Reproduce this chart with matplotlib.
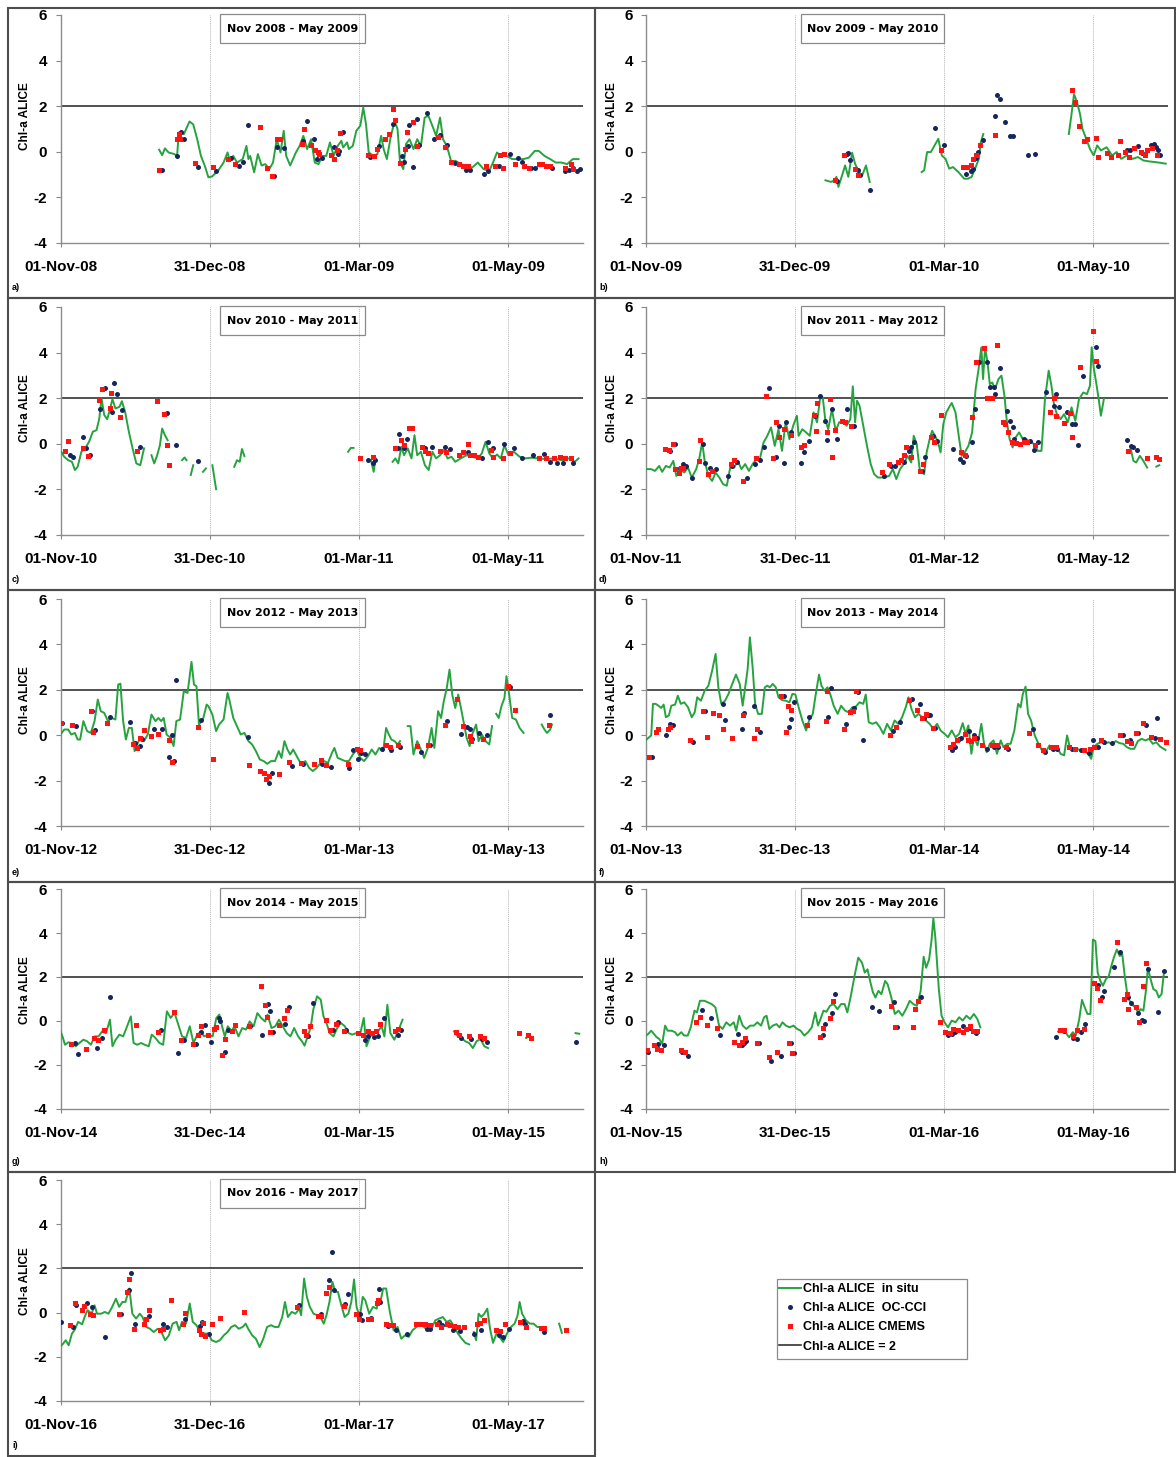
import numpy as np
import matplotlib.pyplot as plt
from matplotlib.patches import Rectangle
from matplotlib.lines import Line2D

# day = days since 01-Nov of the season; None marks a break in the in situ record
GAP = (None, None)

insitu_a = [(39.7, 0.09), (40.9, -0.15), (42, 0.15), (43.5, -0.03), (45.8, -0.1), (46.9, -0.18), (47.6, 0.85),
            (49.6, 0.77), (51.9, 1.33), (53.4, 1.2), (55, 0.55), (56.5, -0.18), (58, -0.6), (59.5, -1.12),
            (61, -1.08), (63.4, -0.83), (65.6, -0.47), (67.2, -0.03), (67.9, -0.32), (69.5, -0.18), (71, -0.47),
            (73.3, -0.32), (74.8, 0.26), (75.6, -0.32), (76.3, -0.18), (77.9, -0.9), (79.4, -0.1), (80.9, -0.6),
            (82.4, -0.54), (84, -0.76), (85.5, -0.47), (87, 0.55), (88.5, -0.03), (89.8, 0.92), (90.8, -0.18),
            (92.4, -0.6), (94.7, -0.03), (96.2, 0.26), (97.7, 0.7), (99.2, 0.12), (100.8, 0.55), (102.3, -0.47),
            (103.8, -0.54), (105.3, -0.18), (106.9, -0.18), (108.4, 0.41), (109.9, -0.18), (111.5, 0.26),
            (113, 0.48), (113.7, 0.19), (115.3, 0.41), (116, 0.12), (117.6, 0.26), (119, 0.92), (120.6, 1.14),
            (121.8, 1.94), (122.9, 1.21), (124, -0.03), (126, -0.18), (127.5, -0.1), (129, 0.7), (130, 0.12),
            (131.3, -0.32), (132.8, 0.63), (134.4, 1.36), (135.6, 0.99), (136.6, -0.47), (137.9, -0.76),
            (139, 0.34), (140.4, 0.55), (142, 0.12), (143.5, 0.55), (145, 0.26), (146.5, 1.5), (148, 1.58),
            (149.6, 1.14), (151.1, 0.7), (152.7, 1.5), (153.9, 0.55), (155.4, 0.26), (157.3, -0.47),
            (158.8, -0.39), (161, -0.54), (163.4, -0.61), (165.6, -0.69), (167.9, -0.47), (170.2, -0.76),
            (172.5, -0.83), (174, -0.47), (175.6, -0.03), (177.1, -0.18), (179.4, -0.18), (181.7, -0.32),
            (184, -0.32), (186.3, -0.32), (188.5, -0.25), (190.8, 0.04), (192.4, 0.04), (194.7, -0.18),
            (197, -0.32), (199.2, -0.47), (201.5, -0.47), (203.8, -0.54), (206.1, -0.32), (208.4, -0.32)]
occci_a = [(40.9, -0.79), (46.7, -0.18), (48.5, 0.88), (49.7, 0.55), (55.4, -0.66), (62.6, -0.86), (68.4, -0.28),
           (71.8, -0.61), (73.3, -0.44), (75.4, 1.17), (85.8, -1.05), (87, 0.19), (89.8, 0.16), (97.7, 0.48),
           (99.2, 1.36), (101.9, 0.58), (103, -0.32), (105, -0.28), (109.9, 0.19), (111.5, -0.1), (111.9, 0.04),
           (113.7, 0.89), (124.5, -0.25), (128.2, 0.26), (133.9, 1.21), (137.4, -0.18), (138.2, -0.44),
           (139.7, 0.26), (140.4, 1.17), (141.7, -0.66), (143.5, 1.46), (144.3, 0.29), (147.3, 1.72),
           (150.4, 0.58), (152.7, 0.73), (155.4, 0.29), (158.8, -0.47), (163, -0.8), (164.9, -0.79),
           (170.2, -0.98), (172.1, -0.83), (176.3, -0.64), (177.9, -0.1), (180.9, -0.1), (184, -0.29),
           (185.5, -0.44), (189.3, -0.69), (190.8, -0.69), (197.7, -0.73), (203, -0.86), (204.6, -0.79),
           (206.1, -0.69), (207.6, -0.83), (208.8, -0.76)]
cmems_a = [(39.7, -0.79), (46.7, 0.58), (47.6, 0.77), (47.9, 0.58), (54.2, -0.47), (61.5, -0.66), (67.2, -0.32),
           (70.2, -0.54), (80.2, 1.07), (83.2, -0.69), (85.2, -1.08), (87, 0.58), (88.5, 0.58), (97, 0.36),
           (98, 0.99), (100.8, 0.31), (102.3, 0.09), (103.5, 0), (103.8, -0.1), (108.7, -0.15), (109.9, -0.32),
           (111.1, 0.07), (112.6, 0.82), (123.6, -0.15), (126, -0.18), (127.5, 0.12), (130.5, 0.55),
           (132.1, 0.77), (133.6, 1.87), (134.7, 1.4), (136.6, -0.47), (138.6, 0.12), (139.3, 0.88), (142, 1.31),
           (143.3, 0.26), (152, 0.67), (154.5, 0.19), (157, -0.44), (160.3, -0.54), (162.1, -0.61),
           (164.1, -0.61), (171.3, -0.61), (174.8, -0.61), (176.8, -0.15), (178.6, -0.1), (177.9, -0.69),
           (183, -0.54), (186.3, -0.61), (188.5, -0.69), (192.4, -0.54), (193.9, -0.54), (195.4, -0.61),
           (197, -0.61), (203, -0.69), (205.3, -0.54), (206.1, -0.76)]

insitu_b = [(72.2, -1.25), (74.4, -1.32), (75.9, -1.25), (76.6, -1.1), (77.4, -1.54), (78.9, -1.03), (80.1, -0.6),
            (81.4, -1.1), (82.9, -0.04), (84.1, -0.52), (85.6, -0.89), (87, -1.03), (88.5, -0.6), (90, -1.32), GAP,
            (110.9, -0.89), (111.9, -0.81), (113.1, -0.01), (114.6, -0.01), (116.1, 0.28), (117.6, 0.57),
            (119, -0.16), (120.5, -0.31), (122, -0.74), (123.5, -0.67), (125.7, -0.89), (128, -1.18),
            (129.5, -1.18), (131, -1.1), (132.4, -0.74), (133.9, -0.31), (134.7, 0.42), (135.7, 0.78), GAP,
            (170.1, 0.78), (171.1, 1.58), (172.2, 2.53), (173.4, 2.17), (174.6, 1.66), (175.6, 1.0), (177.1, 0.57),
            (178.6, 0.13), (180.1, -0.16), (181.5, 0.28), (183, 0.06), (185.3, 0.2), (187.5, -0.16),
            (189.3, -0.01), (191.2, -0.31), (193.5, -0.16), (195.7, -0.31), (197.9, -0.23), (200.1, -0.38),
            (202.4, -0.42), (204.6, -0.45), (206.8, -0.48), (209.1, -0.52)]
occci_b = [(76.9, -1.29), (80.8, -0.09), (81.4, -0.04), (82.1, -0.35), (85.1, -0.81), (86, -1.0), (90, -1.69),
           (116.1, 1.03), (119.8, 0.31), (128.7, -0.96), (130.7, -0.86), (131.7, -0.74), (132.7, -0.28),
           (133.6, 0.01), (135.7, 0.52), (140.3, 1.56), (141.4, 2.5), (142.6, 2.31), (144.6, 1.32), (146.6, 0.68),
           (147.6, 0.71), (153.6, -0.16), (156.3, -0.09), (193.5, 0.06), (194.6, 0.09), (197.9, 0.25),
           (199.4, -0.04), (203.1, 0.28), (204.2, 0.35), (205.1, 0.2), (206.1, 0.09), (206.8, -0.13)]
cmems_b = [(76.2, -1.25), (79.6, -0.16), (84.1, -0.74), (85.1, -1.03), (118.6, 0.09), (127.7, -0.67),
           (129.2, -0.67), (130.7, -0.6), (131.7, -0.31), (132.7, -0.16), (134.4, 0.31), (140.3, 0.74),
           (171.4, 2.7), (172.6, 2.17), (174.1, 1.15), (176.3, 0.49), (177.4, 0.57), (180.9, 0.6), (181.8, -0.23),
           (185.3, -0.04), (187.2, -0.23), (189.7, -0.16), (190.8, 0.47), (192.7, -0.01), (194.2, -0.23),
           (196.4, 0.16), (199, -0.01), (200.6, -0.13), (201.6, 0.06), (203.6, 0.16), (205.4, -0.16)]

insitu_c = [(0.3, -0.35), (1.5, -0.57), (3.1, -0.72), (4.6, -0.79), (5.8, -1.15), (6.9, -1.01), (8.4, -0.35),
            (9.9, -0.2), (11.5, 0.09), (13, 0.53), (14.5, 0.6), (15.6, 1.11), (16.5, 1.99), (17.6, 1.26),
            (18.8, 1.08), (19.8, 1.48), (20.9, 1.96), (22.1, 1.55), (23.7, 1.62), (24.7, 1.87), (26, 1.4),
            (27.5, 0.53), (29, -0.2), (30.5, -0.86), (32.1, -0.94), (33.6, -0.2), GAP,
            (36.6, -0.5), (37.7, -0.86), (38.9, -0.5), (40, -0.06), (40.9, 0.67), (42, 0.38), (43.1, 0.16), GAP,
            (48.9, -0.72), (49.9, -0.6), (50.7, -0.72), GAP, (52.4, -1.37), (53.4, -0.94), GAP,
            (57.3, -1.23), (58.5, -1.08), GAP, (61.1, -0.94), (62.6, -1.99), GAP,
            (69.9, -1.01), (71, -0.72), (72.1, -0.79), (73, -0.23), (74, -0.54), GAP,
            (115.7, -0.35), (116.8, -0.18), (117.9, -0.18), GAP, (124.9, -0.72), (126, -1.23), (126.7, -0.64), GAP,
            (133.6, -0.79), (134.7, -0.64), (135.9, -0.86), (137.1, -0.13), (138.2, -0.5), (139.7, -0.2),
            (141.2, -0.64), (142.4, 0.38), (143.5, -0.5), (145, -0.35), (146.6, -0.94), (148.1, -1.15),
            (149.6, -0.35), (151.1, -0.64), (152.7, -0.5), (154.2, -0.28), (155.7, -0.64), (157.3, -0.57),
            (158.8, -0.79), (161, -0.64), (163.4, -0.5), (165.6, -0.57), (167.9, -0.64), (169.5, -0.42),
            (171, 0.09), (172.5, -0.42), (174, -0.64), (175.6, -0.47), (177.1, -0.64), (178.6, -0.06),
            (180.2, -0.5), (182.4, -0.35), (184.7, -0.57), (187, -0.64), (189.3, -0.61), (192.4, -0.64),
            (195.4, -0.67), (198.5, -0.64), (201.5, -0.72), (204.6, -0.64), (206.9, -0.79), (208.4, -0.64)]
occci_c = [(3.8, -0.5), (4.9, -0.57), (9.2, 0.29), (10.1, -0.18), (11.9, -0.5), (16, 1.52), (18, 2.43), (20.6, 1.4),
           (21.7, 2.68), (22.9, 2.18), (24.7, 1.48), (31.8, -0.16), (42.7, 1.33), (46.6, -0.06), (55.3, -0.75),
           (123.7, -0.72), (125.6, -0.86), (126.4, -0.72), (136.3, 0.41), (135.9, -0.2), (139.4, 0.23),
           (138.2, -0.2), (146.6, -0.2), (149.3, -0.16), (154.5, -0.13), (156.5, -0.23), (164.1, -0.35),
           (169.5, -0.64), (171.8, 0.09), (173.9, -0.18), (178.6, -0.03), (182.4, -0.2), (185.8, -0.64),
           (190.1, -0.5), (192.7, -0.64), (194.7, -0.45), (197, -0.79), (199.7, -0.86), (202.3, -0.86),
           (206.1, -0.86)]
cmems_c = [(1.8, -0.32), (3.1, 0.12), (8.9, -0.18), (11.1, -0.54), (15.3, 1.92), (16.8, 2.4), (20.2, 2.21),
           (19.8, 1.59), (24.1, 1.18), (30.8, -0.32), (38.9, 1.87), (41.5, 1.3), (42.7, -0.06), (43.5, -0.94),
           (120.6, -0.61), (125.6, -0.57), (134.4, -0.18), (137.1, 0.16), (138.2, -0.06), (140.2, 0.7),
           (141.3, 0.7), (145.3, -0.13), (146.6, -0.32), (147.8, -0.42), (152.7, -0.32), (154.9, -0.38),
           (160.3, -0.5), (161.8, -0.35), (164.1, -0.01), (164.9, -0.47), (166.4, -0.5), (167.9, -0.57),
           (173.3, -0.28), (174, -0.57), (177.9, -0.64), (181, -0.42), (192.4, -0.61), (195.4, -0.64),
           (198.5, -0.61), (200.8, -0.57), (203.1, -0.61), (205.3, -0.61)]

insitu_d = [(0, -1.11), (2.1, -1.11), (3.6, -1.19), (5.3, -0.97), (6.5, -1.23), (8, -0.97), (9.5, -1.04),
            (11, -0.75), (12.2, -1.41), (13.6, -1.11), (15.4, -1.26), (16.9, -1.04), (18.4, -1.48), (20.2, -1.11),
            (21.4, -0.67), (22.6, 0.06), (23.6, -0.75), (25.1, -1.41), (26.6, -1.63), (28, -1.26), (29.5, -1.48),
            (31, -1.77), (32.5, -1.84), (34, -0.97), (35.5, -1.04), (36.9, -0.75), (38.4, -1.11), (39.9, -0.89),
            (41.4, -1.19), (42.9, -0.89), (44.4, -0.67), (45.8, -0.67), (47.3, 0.06), (48.8, 0.35), (50.3, 0.72),
            (51.8, -0.09), (53.3, 0.64), (54.7, -0.31), (56.2, 0.94), (57.7, 0.2), (59.2, 0.79), (60.7, 1.23),
            (61.4, 0.35), (62.9, 0.64), (64.4, 0.5), (65.9, 0.35), (67.4, 1.38), (68.8, 0.94), (70, 1.96),
            (71.1, 2.04), (72.1, 1.08), (73.3, 0.64), (74.8, 1.52), (76.3, 0.57), (77.7, 0.94), (79.2, 1.01),
            (80.7, 0.79), (82.2, 1.08), (83.2, 2.52), (84.1, 0.94), (84.9, 1.89), (85.9, 1.67), (87.4, 0.79),
            (88.9, -0.09), (90.4, -0.89), (91.8, -1.33), (93.3, -1.48), (95.5, -1.48), (97.8, -1.41),
            (99.3, -1.11), (100.7, -1.55), (102.2, -1.11), (103.7, -0.89), (105.2, -0.53), (106.7, -0.82),
            (107.7, 0.35), (108.9, -0.01), (110.1, -1.11), (111.1, -1.26), (111.9, -1.33), (112.9, -0.38),
            (114.1, 0.2), (115.1, 0.57), (116.3, 0.35), (117.5, 0.06), (118.5, -0.38), (119.6, 0.86),
            (120.8, 1.38), (122.3, 1.67), (123, 1.79), (124.5, 1.38), (126, 0.2), (127, -0.53), (128.2, -0.38),
            (129.7, -0.09), (131.2, 0.5), (132.6, 2.4), (133.8, 3.28), (134.9, 4.23), (135.6, 2.84),
            (136.4, 4.23), (137.4, 3.57), (138.3, 2.62), (139.3, 2.69), (140.4, 2.4), (141.8, 2.84), (143, 2.99),
            (144.2, 2.11), (145.2, 0.94), (146.3, 0.2), (147.5, -0.16), (148.7, 0.28), (150.1, 0.5), (151.6, 0.2),
            (153.1, 0.2), (154.6, 0.06), (156.4, -0.01), (157.6, -0.31), (159.1, -0.31), (160.5, 1.96),
            (162, 3.21), (163.1, 2.55), (164.1, 1.74), (165.3, 1.3), (166.8, 1.08), (168.2, 1.3), (169.7, 0.94),
            (171.2, 1.6), (172.7, 1.01), (174.2, 1.96), (175.9, 2.25), (177.4, 2.18), (178.6, 2.55),
            (179.3, 4.23), (180.1, 3.35), (181.3, 2.55), (182.3, 1.82), (183, 1.23), (184.2, 1.96), GAP,
            (193.5, -0.38), (195, -0.23), (196.1, -0.75), (197.2, -0.82), (198.7, -0.53), (200.1, -0.75),
            (201.6, -1.04), GAP, (205.3, -1.0), (206.5, -0.94)]
occci_d = [(9.5, -0.31), (11.7, -0.01), (13.6, -1.04), (14.7, -0.89), (16.2, -0.97), (18.7, -1.48), (22.8, -0.01),
           (23.9, -0.86), (25.8, -1.08), (28, -1.11), (32.8, -1.41), (34.7, -0.97), (36.6, -0.82), (40.7, -1.52),
           (43.9, -0.89), (45.8, -0.72), (47.3, -0.12), (49.6, 2.43), (52.2, -0.57), (53.7, 0.76), (55.5, -0.86),
           (56.2, 0.94), (58.5, 0.5), (62.2, -0.86), (63.4, -0.35), (65.6, 0.13), (68.1, 1.23), (70, 2.08),
           (72.1, 1.01), (73, 0.18), (74.8, 1.52), (76.7, 0.2), (80.7, 1.52), (83.7, 0.79), (95.8, -1.41),
           (98.5, -0.97), (100, -0.97), (103.7, -0.82), (105.9, -0.31), (106.7, -0.16), (107.7, 0.06),
           (111.1, -1.19), (112.3, -0.6), (115.6, 0.35), (117.1, 0.13), (123.4, -0.23), (126.4, -0.67),
           (127.4, -0.82), (128.9, -0.53), (131.2, 0.06), (132.3, 1.52), (134.1, 3.57), (137.1, 3.57),
           (138.3, 2.47), (139.8, 2.47), (140.4, 2.18), (142.3, 3.31), (145.2, 1.45), (146.3, 1.01), (147.5, 0.72),
           (148.2, 0.2), (151.9, 0.2), (154.6, 0.13), (156.1, -0.26), (157.6, 0.06), (161, 2.25), (164.1, 1.67),
           (165, 2.18), (166, 1.6), (169.4, 1.38), (171.2, 0.86), (172.4, 0.86), (173.7, -0.06), (175.9, 2.99),
           (180.9, 4.23), (181.9, 3.43), (193.5, 0.16), (195.3, -0.09), (196.1, -0.12), (197.6, -0.26)]
cmems_d = [(7.7, -0.23), (9.1, -0.26), (10.7, -0.01), (11.7, -1.11), (13.2, -1.26), (14, -1.04), (15, -1.04),
           (21.4, -0.75), (21.8, 0.18), (25.1, -1.33), (26.6, -1.19), (34, -0.89), (35.5, -0.7), (39.2, -1.63),
           (44.4, -0.63), (48.1, 2.08), (51, -0.63), (52.2, 0.94), (53.6, 0.32), (55.5, 0.67), (58.5, 0.38),
           (62.5, -0.16), (63.7, -0.06), (67.4, 1.26), (68.8, 1.79), (68.5, 0.57), (72.8, 0.5), (74.2, 1.96),
           (74.9, -0.6), (75.9, 0.62), (78.9, 1.01), (80, 0.97), (82.6, 0.79), (94.8, -1.23), (97.8, -0.89),
           (101.5, -0.78), (102.7, -0.72), (103.7, -0.48), (104.7, -0.16), (106.7, -0.57), (110.4, -1.19),
           (111.6, -0.89), (114.8, 0.28), (116, 0.1), (118.5, 1.27), (126.7, -0.38), (128.2, -0.5), (131.2, 1.16),
           (132.9, 3.57), (135.9, 4.19), (137.1, 2.0), (139.3, 1.99), (141.3, 4.33), (143.8, 0.97), (144.5, 0.86),
           (145.7, 0.5), (147.2, 0.09), (148.7, 0.03), (150.4, -0.01), (151.9, 0.06), (153.1, 0.06),
           (156.4, -0.06), (162.6, 1.41), (164.1, 2.03), (165, 1.23), (168.2, 0.91), (170.5, 1.35), (171.5, 0.32),
           (174.5, 3.35), (179.8, 4.96), (180.9, 3.65), (194.1, -0.31), (201.6, -0.64), (205.3, -0.6),
           (206.5, -0.67)]

insitu_e = [(0, 0.03), (1.5, 0.25), (3.1, 0.25), (4.3, 0.03), (5.8, 0.1), (6.9, -0.19), (7.9, -0.19), (9.2, 0.62),
            (10.7, 0.18), (12.2, 0.1), (13.7, 0.62), (15, 1.57), (16.2, 1.06), (17.6, 0.98), (19.1, 0.62),
            (20.6, 0.76), (22.1, 0.69), (23.2, 2.23), (24.1, 2.27), (25.2, 0.62), (26.3, -0.19), (27.5, 0.32),
            (28.7, 0.32), (29.8, -0.7), (30.8, -0.41), (32.1, -0.12), (33.6, -0.26), (35.1, 0.03), (36.6, 0.91),
            (38.2, 0.62), (39.4, 0.76), (40.5, 0.62), (41.5, 0.76), (42.7, 0.03), (44.3, -0.12), (45.5, -0.48),
            (46.6, 0.62), (48.1, 0.69), (49.6, 1.94), (51.1, 1.86), (52.7, 3.23), (53.7, 2.23), (54.7, 2.16),
            (55.7, 0.47), (57.3, 0.69), (58.8, 1.35), (59.5, 1.28), (61.1, 0.91), (62.6, 0.18), (63.8, 0.47),
            (65.6, 0.69), (67.2, 1.86), (67.9, 1.57), (69.5, 0.76), (71, 0.4), (72.5, 0.03), (74, 0.1),
            (75.6, -0.26), (77.1, -0.41), (78.6, -0.7), (80.2, -1.07), (81.7, -1.14), (83.2, -1.26), (84.7, -1.14),
            (86.3, -1.14), (87.8, -0.7), (88.9, -1.0), (90.1, -0.26), (91.3, -0.63), (92.4, -0.85), (93.6, -0.63),
            (95.4, -1.0), (96.9, -1.29), (98.5, -1.14), (100, -1.44), (101.5, -1.58), (103.1, -1.44),
            (104.6, -1.22), (106.1, -1.14), (107.6, -1.22), (109.2, -0.78), (110.2, -0.56), (111.5, -1.0),
            (113, -1.07), (114.5, -1.14), (116, -1.14), (117.6, -0.85), (119.1, -0.63), (120.6, -1.0),
            (122.1, -1.14), (123.7, -0.92), (125.2, -0.63), (126.7, -0.85), (128.2, -0.56), (129.8, -0.7),
            (131, 0.32), (132.1, 0.03), (133.1, -0.19), (134.4, -0.26), (135.6, -0.41), (136.6, -0.26), GAP,
            (139.7, 0.4), (140.8, 0.4), (142, -0.85), (143.5, -0.26), (144.7, -0.56), (146.3, -1.0), (147.8, -0.56),
            (149.3, 0.32), (150.4, -0.56), (151.9, 1.06), (153.1, 0.76), (154.2, 1.5), (155.4, 2.08),
            (156.5, 2.89), (157.6, 1.79), (158.8, 1.2), (160, 1.79), (161.1, 1.2), (162.1, 0.62), (163.4, -0.12),
            (164.6, -0.48), (165.6, 0.03), (167.2, 0.47), (168.2, -0.26), (169.5, 0.03), (171, -0.26),
            (172.5, -0.41), (173.6, 0.4), GAP, (175.3, 0.94), (176.3, 0.76), (177.4, 1.28), (178.6, 1.64),
            (179.4, 2.6), (180.5, 1.79), (181.7, 0.76), (183.2, 0.69), (184.7, 0.32), (186.3, 0.1), GAP,
            (193.6, 0.47), (194.7, 0.25), (195.7, 0.1), (197, 0.25), (197.7, 0.47)]
occci_e = [(0.8, 0.54), (6.1, 0.4), (12.7, 1.06), (13.7, 0.21), (19.8, 0.79), (27.9, 0.57), (29.8, -0.34),
           (31.8, -0.48), (32.8, -0.15), (37.7, 0.29), (40.8, 0.29), (43.5, -0.97), (45.5, -1.14), (44.7, 0.03),
           (46.6, 2.42), (56.5, 0.65), (75.6, -0.07), (84, -2.1), (85.2, -1.66), (93.1, -1.36), (97.7, -1.29),
           (105.3, -1.29), (108.7, -1.41), (116, -1.44), (117.6, -0.67), (119.8, -1.03), (120.9, -0.78),
           (122.4, -0.81), (129.5, -0.6), (132.8, -0.67), (136.6, -0.53), (144.9, -0.73), (148.5, -0.45),
           (155.4, 0.62), (161.1, 0.07), (163.7, 0.35), (164.6, 0.29), (165.6, -0.16), (168.2, 0.1),
           (171.5, -0.01), (180.9, 2.11), (197, 0.91)]
cmems_e = [(0, 0.54), (4.6, 0.44), (12.2, 1.06), (13, 0.15), (18.6, 0.54), (29, -0.38), (30.8, -0.56), (32.1, -0.12),
           (33.6, 0.21), (36.6, -0.04), (39.4, 0.07), (43.5, -0.23), (45, -1.19), (55.3, 0.35), (61.5, -1.07),
           (76, -1.33), (80.2, -1.58), (81.7, -1.66), (82.7, -1.95), (84, -1.8), (87.8, -1.7), (91.9, -1.17),
           (96.9, -1.22), (102, -1.26), (104.6, -1.11), (106.9, -1.33), (115.7, -1.29), (119.1, -0.59),
           (120.3, -0.63), (131, -0.41), (132.5, -0.53), (135.6, -0.41), (143.5, -0.48), (147.8, -0.41),
           (154.5, 0.47), (159.5, 1.61), (162.1, 0.4), (164.6, -0.04), (165.3, -0.26), (169.8, -0.16),
           (180.2, 2.16), (182.9, 1.13), (196.6, 0.47)]

insitu_f = [(0, -0.21), (1.3, -0.09), (2.1, -0.01), (2.8, 1.38), (3.9, 1.38), (5, 1.3), (6.1, 1.2), (7.1, 1.35),
            (8, 0.79), (9.2, 0.87), (10.2, 1.3), (11.7, 1.35), (12.8, 1.74), (14, 1.38), (15.4, 1.45), (16.9, 1.23),
            (18.4, 0.79), (19.6, 1.01), (20.6, 1.67), (22.1, 1.52), (23.6, 1.96), (25.1, 2.18), (26.6, 2.84),
            (28, 3.58), (29.1, 2.11), (30.3, 1.38), (31.8, 1.52), (33.2, 1.82), (34.7, 2.26), (36.2, 2.67),
            (37.7, 2.26), (38.9, 1.3), (39.9, 2.11), (40.9, 2.92), (41.8, 4.31), (42.9, 2.99), (43.9, 1.38),
            (45.1, 0.94), (46.6, 0.94), (47.8, 2.11), (48.8, 2.18), (49.8, 2.11), (51, 2.26), (52.2, 2.11),
            (53.3, 1.67), (54.7, 1.55), (56.2, 1.52), (57.7, 1.45), (58.9, 1.82), (60.1, 1.79), (61.4, 1.23),
            (62.9, 0.65), (64.4, 0.21), (65.6, 0.65), (67.1, 0.94), (68.1, 1.67), (69.6, 2.67), (70.6, 2.18),
            (71.8, 1.96), (73, 2.11), (74.1, 1.82), (75.5, 1.3), (77.1, 0.94), (78.5, 1.3), (80.1, 1.08),
            (81.5, 1.01), (83, 1.23), (84.4, 1.26), (85.9, 1.45), (87.4, 1.38), (88.4, 1.79), (89.6, 0.57),
            (91.1, 0.5), (92.6, 0.57), (94.1, 0.35), (95.5, 0.06), (97, 0.5), (98.5, 0.21), (100, 0.65),
            (101.5, 0.5), (103, 0.79), (104.5, 1.23), (105.6, 1.67), (106.8, 1.16), (108.2, 0.79), (109.6, 0.94),
            (111.1, 0.79), (112.6, 0.65), (114.1, 0.5), (115.6, 0.28), (117.1, 0.5), (118.5, 0.21), (120.1, 0.06),
            (121.5, -0.09), (123, 0.21), (124.5, -0.09), (126, 0.06), (127.4, 0.53), (128.6, 0.06), (129.7, 0.43),
            (130.9, -0.82), (131.9, -0.09), (133.4, -0.45), (134.9, 0.5), (136, -0.38), (137.1, -0.75),
            (138.3, -0.38), (139.8, -0.23), (141.2, -0.82), (142.7, -0.23), (143.8, -0.53), (145.3, -0.38),
            (146.7, -0.38), (148.2, 0.21), (149.7, 1.38), (150.7, 1.23), (151.6, 1.82), (152.7, 2.14),
            (153.7, 0.94), (154.9, 0.65), (156.4, -0.01), (157.9, -0.38), (159.3, -0.67), (160.8, -0.75),
            (162.3, -0.45), (163.8, -0.67), (165.3, -0.53), (166.8, -0.82), (168.2, -0.89), (169.4, -0.01),
            (170.5, -0.53), (171.9, -0.67), (173.4, -0.6), (174.9, -0.67), (176.4, -0.7), (177.9, -0.82),
            (179.1, -1.04), (180.1, -0.53), (181.6, -0.38), (183.1, -0.31), (184.6, -0.38), (186.1, -0.31),
            (187.5, -0.38), (189, -0.26), (190.5, -0.35), (192, -0.38), (193.5, -0.53), (195, -0.6), (196.4, -0.6),
            (197.9, -0.26), (199.4, -0.16), (200.9, -0.23), (202.4, -0.16), (203.9, -0.38), (205.3, -0.31),
            (206.8, -0.5), (209, -0.65)]
occci_f = [(2.4, -0.94), (8, 0.01), (9.5, 0.5), (11, 0.45), (19.1, -0.31), (23.6, 1.08), (31, 1.38), (31.8, 0.69),
           (38.7, 0.28), (39.6, 0.97), (43.6, 1.3), (45.8, 0.13), (55.5, 1.74), (57.7, 0.38), (58.5, 0.72),
           (59.5, 1.45), (65.6, 0.82), (73.3, 0.79), (74.5, 2.08), (80.4, 0.5), (83.7, 1.2), (85.2, 1.89),
           (87.4, -0.21), (99.3, 0.18), (102.2, 0.57), (107, 1.6), (110.1, 1.38), (111.9, 0.76), (113.4, 0.87),
           (114.1, 0.87), (116.3, 0.31), (123, -0.67), (124.5, -0.53), (126, -0.16), (126.7, -0.12), (130, 0.18),
           (131.9, -0.01), (133, -0.13), (137.1, -0.6), (140.1, -0.5), (141.8, -0.53), (145.7, -0.6),
           (155.6, 0.28), (160.5, -0.75), (163.8, -0.6), (165.3, -0.6), (171.2, -0.6), (174.9, -0.67),
           (178.4, -0.79), (180, -0.23), (182, -0.53), (184.4, -0.31), (187.5, -0.34), (192, 0.01),
           (194.7, -0.21), (197.9, 0.09), (201.3, 0.43), (204.6, -0.12), (205.6, 0.76)]
cmems_f = [(1.3, -0.94), (3.9, 0.13), (4.7, 0.28), (8.8, 0.28), (9.5, 0.35), (17.7, -0.23), (22.8, 1.08),
           (24.6, -0.09), (27, 0.97), (29.5, 0.87), (31, 0.28), (34.7, -0.12), (38.9, 0.87), (43.6, -0.12),
           (44.7, 0.28), (54.5, 1.72), (56.5, 0.13), (57.3, 1.28), (58.5, 1.11), (64.7, 0.47), (73, 1.94),
           (72.6, 0.62), (79.5, 0.28), (82.2, 1.01), (83.4, 1.06), (84.4, 1.96), (98.1, 0.01), (100.7, 0.35),
           (105.9, 1.55), (108.9, 1.11), (111.1, 0.75), (112.6, 0.94), (115.6, 0.31), (122.3, -0.53),
           (123.7, -0.38), (125.1, -0.21), (128.2, 0.06), (129.4, -0.21), (130.9, -0.26), (131.9, -0.13),
           (135.3, -0.45), (139.2, -0.41), (141.2, -0.45), (144.8, -0.5), (154.2, 0.09), (157.7, -0.41),
           (159.9, -0.63), (162.8, -0.5), (165, -0.5), (170.1, -0.53), (172.7, -0.6), (176.4, -0.65),
           (178.6, -0.6), (180.4, -0.53), (183.1, -0.23), (190.5, -0.01), (193.5, -0.26), (195, -0.35),
           (197.2, 0.09), (200.1, 0.53), (203.1, -0.06), (206.8, -0.16), (209, -0.31)]

insitu_g = [(0, -0.47), (0.8, -0.7), (1.8, -1.08), (3.1, -0.97), (4.6, -1.0), (6.1, -1.15), (7.6, -1.0), (9.2, -0.85),
            (10.7, -0.92), (12.2, -1.08), (13.8, -0.7), (15.3, -0.7), (16.8, -0.47), (18.3, -0.55), (19.9, 0.06),
            (20.9, -1.15), (22.2, -0.85), (23.7, -0.62), (25.2, -0.7), (26.8, -0.24), (28.3, 0.21), (29.4, -1.0),
            (30.9, -1.08), (32.4, -1.0), (33.9, -1.08), (35.5, -1.15), (36.7, -0.62), (38.2, -0.77), (39.8, -1.0),
            (41.3, -1.08), (42.8, 0.44), (44.3, 0.14), (45.9, 0.36), (47.4, -0.17), (48.9, -0.7), (50.5, -0.77),
            (52, -0.24), (53.5, -1.0), (54.7, -0.7), (56.3, -0.47), (57.8, -0.7), (59.3, -0.62), (61.2, -0.7),
            (62.7, 0.14), (63.9, 0.29), (65, -0.24), (66.1, -0.7), (67.3, -0.24), (68.8, -0.47), (70, -0.24),
            (71.6, -0.7), (73.1, -0.32), (74.6, -0.39), (76.1, -0.02), (77.7, -0.24), (79.2, 0.36), (80.7, 0.14),
            (82.3, -0.02), (83.3, 0.29), (84.9, -0.32), (86.4, -0.24), (87.9, 0.06), (89.4, -0.24), (91, -0.55),
            (92.5, -0.7), (94, -0.32), (95.6, -0.7), (97.1, -0.92), (98.2, -1.12), (99.4, -0.7), (100.6, -0.32),
            (101.7, 0.52), (103.2, 1.12), (104.7, 0.97), (105.8, 0.21), (107, -0.09), (108.3, -0.55),
            (109.8, -0.7), (111.3, -0.32), (112.8, -0.09), (114.4, -0.24), (115.9, -0.55), (117.4, -0.62),
            (119, -0.55), (120.5, -0.62), (122, 0.14), (123.1, -1.15), (124.6, -0.7), (126.1, -0.55),
            (127.7, -0.47), (129.2, -0.24), (130.3, -0.7), (131.5, 0.74), (132.7, -0.55), (134.3, -0.85),
            (135.8, -0.47), (137.6, 0.06), GAP, (158.3, -0.47), (159.8, -0.7), (161.3, -0.77), (162.8, -0.92),
            (164.4, -1.0), (165.9, -1.23), (167.4, -0.92), (169, -0.82), (170.5, -1.15), (172, -1.23), GAP,
            (187.3, -0.77), (188.8, -0.7), GAP, (207.2, -0.55), (208.7, -0.58)]
occci_g = [(5.7, -1.0), (6.9, -1.48), (14.5, -1.23), (16.5, -0.77), (19.9, 1.08), (40.5, -0.39), (47.4, -1.45),
           (49.7, -0.88), (54.6, -1.03), (56.6, -0.5), (58.1, -0.2), (60.4, -0.95), (63.9, 0.14), (64.2, -0.02),
           (66.1, -1.42), (67.3, -0.39), (76.1, -0.24), (81, -0.62), (83.3, 0.79), (84.1, 0.44), (85.3, -0.5),
           (90.5, -0.12), (92, 0.64), (99.7, -0.7), (101.7, 0.82), (109.8, -0.42), (111.6, -0.06), (115, -0.42),
           (122.6, -0.85), (123.9, -0.7), (126.1, -0.74), (127.7, -0.7), (130, 0.14), (135.8, -0.62),
           (136.9, -0.42), (161.3, -0.77), (165.1, -0.8), (169.7, -0.82), (171.6, -0.97), (207.2, -0.97)]
cmems_g = [(4.3, -1.05), (10.4, -1.26), (13.5, -0.77), (15, -0.85), (17.6, -0.42), (30.3, -0.2), (39.4, -0.52),
           (45.6, 0.39), (48.6, -0.85), (53.2, -1.03), (55.4, -0.62), (56.6, -0.21), (59.3, -0.62), (61.9, -0.35),
           (62.7, -0.27), (65, -1.53), (66.1, -0.8), (69.1, -0.47), (70.3, -0.17), (75.7, -0.24), (80.7, 1.58),
           (82.1, 0.74), (83, 0.18), (84.1, -0.5), (87.9, -0.17), (89.9, 0.14), (91, 0.52), (97.9, -0.47),
           (98.6, -0.62), (100.2, -0.21), (107, 0.06), (108.6, -0.42), (110.9, -0.12), (113.9, -0.47),
           (119.7, -0.55), (121.6, -0.62), (123.9, -0.47), (125.4, -0.55), (126.9, -0.47), (128.7, -0.12),
           (134.6, -0.47), (135.8, -0.35), (159.2, -0.52), (160.4, -0.62), (164.2, -0.7), (168.8, -0.7),
           (170.3, -0.77), (184.3, -0.55), (188.1, -0.62), (189.3, -0.77)]

insitu_h = [(0, -0.66), (0.9, -0.59), (2.1, -0.44), (3.2, -0.59), (4.3, -0.74), (5.3, -0.81), (6.5, -1.04),
            (7.7, -0.21), (8.7, -0.44), (10.2, -0.44), (11.7, -0.51), (12.7, -0.66), (14.2, -0.51), (15.3, -0.66),
            (16.8, -0.66), (18, -0.29), (19.5, 0.47), (20.5, 0.39), (21.7, 0.92), (23.5, 0.92), (25, 0.84),
            (26.4, 0.77), (27.9, 0.62), (29.4, -0.21), (30.8, -0.36), (32.3, -0.06), (33.8, -0.21), (35.3, -0.06),
            (36.3, -0.44), (37.5, 0.24), (38.9, -0.21), (40.4, -0.36), (41.9, -0.21), (43.4, -0.21), (44.8, -0.06),
            (46.3, -0.21), (47.5, 0.17), (48.5, 0.24), (49.6, -0.36), (51, -0.21), (52.5, -0.14), (53.7, -0.29),
            (54.9, -0.06), (56.3, -0.21), (57.8, -0.29), (59.3, -0.21), (60.8, -0.36), (62.2, -0.44),
            (63.7, -0.66), (65.2, -0.51), (66.7, -0.29), (68.1, 0.39), (69.2, -0.21), (70.2, 0.09), (71.4, 0.47),
            (72.6, 0.42), (74, 0.69), (75.5, 0.77), (77, 0.54), (78.5, 0.77), (79.9, 0.77), (81, 0.39),
            (82.4, 1.14), (83.9, 2.05), (85.4, 2.88), (86.9, 2.65), (88, 2.2), (89.1, 2.35), (90.3, 1.75),
            (91.3, 1.3), (92.3, 1.07), (93.5, 1.37), (94.7, 1.22), (96.2, 1.82), (97.2, 1.67), (98.7, 1.07),
            (100.1, 0.32), (101.6, 0.47), (103.1, 0.24), (104.6, 0.54), (106.1, 0.92), (107.5, 0.77), (109, 0.69),
            (110.5, 1.37), (111.7, 2.92), (112.7, 2.42), (113.9, 2.8), (114.9, 3.7), (115.6, 4.68), (116.4, 3.78),
            (117.8, 1.45), (118.9, 0.24), (120.1, -0.06), (121.5, -0.29), (123, 0.02), (124.5, -0.06),
            (126, 0.17), (127.4, 0.02), (128.9, 0.24), (130.4, 0.09), (131.9, 0.32), (133.3, 0.09),
            (134.5, -0.29), GAP, (165.8, -0.48), (167.3, -0.36), (168.7, -0.51), (170.2, -0.74), (171.7, -0.51),
            (172.9, -0.66), (174.3, 0.09), (175.4, 0.96), (176.5, 0.62), (177.6, 0.32), (178.8, 0.32),
            (179.8, 3.7), (180.8, 3.63), (181.7, 2.2), (182.8, 1.82), (183.8, 1.6), (185, 1.9), (186.2, 2.05),
            (187.2, 2.5), (188.2, 2.88), (189.4, 3.25), (190.6, 2.95), (191.6, 3.03), (192.6, 2.05), (193.8, 1.07),
            (195.3, 0.77), (196.8, 0.62), (198, 0.39), (199, 0.54), (200.1, 0.47), (201.2, 1.45), (201.9, 2.42),
            (203, 1.9), (204.1, 1.45), (205.3, 1.37), (206.3, 1.07), (207.4, 1.22), (208.3, 2.12)]
occci_h = [(0.9, -1.39), (4.7, -1.04), (7.2, -1.11), (14.6, -1.39), (16.8, -1.57), (22.7, 0.5), (26, 0.12),
           (29.8, -0.63), (37.2, -0.59), (38.6, -1.11), (39.4, -1.01), (40.4, -0.92), (45.6, -1.01), (50.4, -1.84),
           (54.4, -1.6), (58.4, -1.01), (59.6, -1.45), (71.1, -0.63), (72.1, -0.14), (74.8, 0.36), (76.1, 1.25),
           (90.9, 0.65), (93.8, 0.44), (99.7, 0.87), (100.9, -0.29), (110.5, 1.07), (121.5, -0.63), (123, -0.59),
           (124.5, -0.48), (127.4, -0.21), (130.4, -0.33), (132.6, -0.54), (133.3, -0.44), (165, -0.74),
           (168, -0.44), (171.7, -0.78), (173.2, -0.81), (175, -0.51), (176.8, -0.14), (182, 1.63), (183.5, 1.07),
           (184.2, 1.37), (188.2, 2.47), (190.6, 3.13), (193.8, 1.07), (195, 0.81), (198, 0.36), (199.4, 0.05),
           (200.4, 0.02), (201.9, 2.35), (205.9, 0.39), (208.3, 2.27)]
cmems_h = [(0.3, -1.34), (3.2, -1.07), (4.3, -1.27), (6.2, -1.34), (13.9, -1.34), (15.6, -1.39), (20.1, -0.03),
           (21.7, 0.17), (24.6, -0.17), (28.6, -0.33), (35.3, -0.96), (37.5, -1.11), (38.6, -0.96), (39.7, -0.78),
           (44.5, -1.01), (49.3, -1.64), (52.5, -1.39), (57.4, -0.99), (58.6, -1.45), (70.2, -0.74),
           (71.4, -0.33), (74, 0.12), (75.1, 0.92), (98.7, 0.69), (100.1, -0.26), (107.5, -0.26), (108.3, 0.54),
           (109.4, 0.92), (118.3, -0.06), (120.1, -0.51), (122.3, -0.56), (123.7, -0.36), (125.7, -0.41),
           (127.4, -0.48), (128.9, -0.36), (130.4, -0.21), (131.6, -0.44), (133.3, -0.44), (166.5, -0.39),
           (168, -0.39), (171.7, -0.66), (173.2, -0.39), (176.1, -0.36), (180.1, 1.75), (181.6, 1.52),
           (182.6, 0.96), (189.4, 3.58), (192.3, 0.99), (193.5, 1.22), (194.1, 0.54), (197, 0.62), (198.5, -0.03),
           (200, 1.6), (201.2, 2.65)]

insitu_i = [(0, -1.53), (1.1, -1.4), (2.1, -1.25), (3.3, -1.48), (4.6, -0.95), (5.6, -0.8), (7.1, -0.42),
            (8.7, -0.53), (9.7, -0.2), (10.9, 0.11), (12.5, -0.05), (13.7, 0.33), (14.7, -0.05), (16.3, -0.05),
            (17.8, 0.03), (19.3, -0.05), (20.8, 0.26), (22.3, 0.63), (23.6, 0.26), (24.9, 0.48), (26.1, 0.48),
            (27.7, 1.09), (28.9, -0.05), (30.4, -0.27), (31.9, -0.05), (33, -0.2), (34.5, -0.65), (36, -0.73),
            (37.5, -0.88), (39.1, -0.73), (40.6, -0.88), (42.1, -1.25), (43.6, -1.03), (45.1, -0.5), (46.7, -0.42),
            (47.7, -0.8), (48.9, -0.42), (50.5, -0.5), (52, 0.41), (53.2, -0.42), (54.7, -0.57), (56.2, -0.88),
            (58.1, -0.95), (59.6, -0.95), (60.8, -1.25), (62.6, -1.33), (64.1, -1.25), (65.7, -1.03),
            (67.2, -0.88), (68.7, -0.65), (70.2, -0.57), (71.7, -0.73), (73.3, -0.65), (74.5, -0.5), (75.5, -0.73),
            (77.1, -1.03), (78.6, -1.18), (80.1, -1.56), (81.6, -1.18), (83.1, -0.65), (84.7, -0.57),
            (86.2, -0.65), (87.7, -0.65), (89.2, -0.2), (90.3, 0.48), (91.5, -0.2), (93, 0.03), (94.5, -0.05),
            (96.1, 0.18), (96.8, -0.12), (98, 1.54), (99.1, 0.71), (100.3, 0.26), (101.8, -0.05), (103.3, -0.12),
            (104.9, -0.27), (105.9, -0.5), (107, -0.12), (108.2, 0.48), (109.4, 1.39), (110.5, 0.94), (111.6, 0.94),
            (112.8, 0.41), (114.3, -0.2), (115.8, -0.05), (117, 0.48), (118.1, 1.5), (119.1, 0.26), (120.4, -0.2),
            (121.6, 0.71), (122.6, 0.56), (124.2, -0.05), (125.7, 0.26), (127.2, 0.18), (128, 0.63), (128.7, 0.48),
            (129.8, 1.09), (131, 1.09), (132.5, 0.03), (134, -0.8), (135.6, -0.65), (137.1, -1.18), (138.6, -1.03),
            (140.1, -1.1), (141.6, -0.8), (143.2, -0.65), (144.7, -0.5), (146.2, -0.65), (147.7, -0.8),
            (149.2, -0.73), (150.8, -0.35), (152.3, -0.27), (153.8, -0.2), (155.3, -0.42), (156.8, -0.35),
            (158.4, -0.65), (159.9, -0.95), (161.4, -1.18), (162.9, -1.37), (164.4, -1.44), GAP, (166.3, -0.88),
            (167.2, -1.25), (168.2, -0.05), (169.3, -0.2), (170.5, -0.05), (171.7, 0.18), (172.8, -0.73),
            (174, -1.37), (175.4, -0.95), (176.6, -1.1), (178.1, -1.33), (179.6, -0.95), (181.2, -0.65),
            (182.7, -0.5), (183.9, -0.12), (184.7, 0.48), (185.7, -0.05), (187.2, -0.35), (188.8, -0.5),
            (190.3, -0.5), (191.8, -0.65), (193.3, -0.65), (194.8, -0.65), GAP, (200.6, -0.5), (201.7, -0.92)]
occci_i = [(0, -0.42), (4.9, -0.65), (6.4, 0.33), (10.6, 0.44), (12.8, 0.26), (17.8, -1.1), (24.3, -0.05),
           (28.4, 1.8), (27.7, 1.01), (29.9, -0.5), (35.7, -0.15), (41.3, -0.5), (42.9, -0.65), (50, -0.27),
           (56.2, -0.6), (56.8, -0.42), (59.6, -0.98), (96.1, 0.33), (104.9, -0.08), (108.2, 1.47), (109.4, 2.75),
           (110, 1.04), (115.5, 0.82), (114.6, 0.41), (120.4, -0.08), (121.1, -0.32), (124.9, -0.23), (128, 1.06),
           (128.7, 0.48), (131.8, -0.62), (134.8, -0.77), (139.4, -0.95), (146.2, -0.5), (147.4, -0.76),
           (148.5, -0.73), (152.3, -0.42), (153.5, -0.57), (156.1, -0.57), (158.1, -0.77), (160.6, -0.85),
           (166.3, -0.98), (169.3, -0.77), (176.6, -1.03), (178.1, -1.1), (180.4, -0.73), (185.9, -0.39),
           (186.8, -0.53), (194.6, -0.88)]
cmems_i = [(3.8, -0.54), (5.9, 0.44), (8.7, 0.11), (9.4, 0.29), (12, -0.05), (13.2, -0.12), (23.6, -0.08),
           (26.9, 0.94), (27.7, 1.5), (29.5, -0.73), (33.4, -0.53), (34.5, -0.27), (35.6, 0.11), (40.1, -0.77),
           (41.3, -0.73), (44.4, 0.56), (49.4, -0.53), (50.2, -0.02), (55.8, -0.8), (56.5, -0.95), (58.1, -1.06),
           (57.3, -0.45), (61.1, -0.5), (64.1, -0.24), (74, 0.03), (95, 0.26), (103.6, -0.17), (104.9, -0.17),
           (107, 0.89), (108, 1.16), (114, 0.29), (119, -0.08), (120.1, -0.27), (123.7, -0.3), (124.9, -0.3),
           (127.2, 0.44), (127.7, 0.59), (131, -0.53), (132.5, -0.57), (133.7, -0.57), (143.2, -0.53),
           (144.7, -0.53), (146.5, -0.53), (148.5, -0.54), (151.5, -0.5), (153, -0.65), (155.3, -0.53),
           (156.8, -0.54), (158.4, -0.62), (159.9, -0.65), (162.2, -0.65), (167.6, -0.53), (168.8, -0.47),
           (170.3, -0.32), (175.4, -0.8), (176.9, -0.83), (178.9, -0.53), (185, -0.42), (187.2, -0.65),
           (193.3, -0.68), (194.6, -0.68), (203.2, -0.77)]

titles = ["Nov 2008 - May 2009", "Nov 2009 - May 2010", "Nov 2010 - May 2011", "Nov 2011 - May 2012",
          "Nov 2012 - May 2013", "Nov 2013 - May 2014", "Nov 2014 - May 2015", "Nov 2015 - May 2016",
          "Nov 2016 - May 2017"]
letters = ["a)", "b)", "c)", "d)", "e)", "f)", "g)", "h)", "i)"]
start_years = [8, 9, 10, 11, 12, 13, 14, 15, 16]
tick_days = [0, 60, 120, 180]
insitu = [insitu_a, insitu_b, insitu_c, insitu_d, insitu_e, insitu_f, insitu_g, insitu_h, insitu_i]
occci = [occci_a, occci_b, occci_c, occci_d, occci_e, occci_f, occci_g, occci_h, occci_i]
cmems = [cmems_a, cmems_b, cmems_c, cmems_d, cmems_e, cmems_f, cmems_g, cmems_h, cmems_i]

GREEN = "#26a33f"
NAVY = "#14265c"
RED = "#ff1414"
ARIAL = "Liberation Sans"

W, H = 1176, 1457
fig = plt.figure(figsize=(W / 100, H / 100), dpi=100)

col_x0 = [60.5, 646]
ax_w = 522
row_span = [(15, 243), (307, 535), (599, 826), (889, 1109), (1180, 1401)]
box_cols = [(8, 595), (595, 1175)]
box_rows = [(8, 298), (298, 590), (590, 882), (882, 1172), (1172, 1456)]
title_x = [(220, 365), (801, 944)]


def frac_rect(x0, y0, x1, y1, **kw):
    # pixel box (top-left origin) -> figure rectangle
    return Rectangle((x0 / W, 1 - y1 / H), (x1 - x0) / W, (y1 - y0) / H,
                     transform=fig.transFigure, **kw)


for i in range(9):
    col, row = i % 2, i // 2
    yt, yb = row_span[row]
    x0 = col_x0[col]
    ax = fig.add_axes([x0 / W, 1 - yb / H, ax_w / W, (yb - yt) / H])

    d, v = np.array(insitu[i], dtype=float).T
    ax.plot(d, v, color=GREEN, lw=1.4, zorder=3)
    d, v = np.array(occci[i], dtype=float).T
    ax.plot(d, v, "o", color=NAVY, ms=3.6, mew=0, zorder=4)
    d, v = np.array(cmems[i], dtype=float).T
    ax.plot(d, v, "s", color=RED, ms=3.6, mew=0, zorder=5)

    ax.axhline(2, color="#333333", lw=1.2, zorder=2)
    for t in tick_days[1:]:
        ax.axvline(t, color="#b4b4b4", lw=0.7, ls=(0, (1, 1)), zorder=1)

    ax.set_xlim(0, 210)
    ax.set_ylim(-4, 6)
    y0, y1 = start_years[i], start_years[i] + 1
    ax.set_xticks(tick_days)
    ax.set_xticklabels([f"01-Nov-{y0:02d}", f"31-Dec-{y0:02d}", f"01-Mar-{y1:02d}", f"01-May-{y1:02d}"],
                       fontfamily=ARIAL, fontweight="bold", fontsize=11)
    ax.set_yticks([-4, -2, 0, 2, 4, 6])
    ax.set_yticklabels(["-4", "-2", "0", "2", "4", "6"], fontfamily=ARIAL, fontweight="bold", fontsize=11)
    ax.tick_params(axis="x", length=3, width=0.8, color="#888888", pad=9)
    ax.tick_params(axis="y", length=3.5, width=0.8, color="#888888", pad=6)
    for s in ("top", "right"):
        ax.spines[s].set_visible(False)
    for s in ("left", "bottom"):
        ax.spines[s].set_color("#8c8c8c")
        ax.spines[s].set_linewidth(1.0)

    # panel frame, title box, y label, panel letter
    bx0, bx1 = box_cols[col]
    by0, by1 = box_rows[row]
    fig.add_artist(frac_rect(bx0, by0, bx1, by1, fill=False, ec="#4d4d4d", lw=1.5))
    tx0, tx1 = title_x[col]
    fig.add_artist(frac_rect(tx0, yt - 1, tx1, yt + 28, fill=False, ec="#8a8a8a", lw=0.9))
    fig.text((tx0 + tx1) / 2 / W, 1 - (yt + 13.5) / H, titles[i], ha="center", va="center",
             fontfamily="DejaVu Sans", fontweight="bold", fontsize=8)
    fig.text((bx0 + 17) / W, 1 - (yt + 101) / H, "Chl-a ALICE", rotation=90, ha="center", va="center",
             fontfamily=ARIAL, fontweight="bold", fontsize=8.5)
    fig.text((bx0 + 4) / W, 1 - (by1 - 10) / H, letters[i], ha="left", va="center",
             fontfamily=ARIAL, fontweight="bold", fontsize=6.5)

# legend in the empty bottom-right cell
fig.add_artist(frac_rect(777, 1279, 967, 1359, fill=False, ec="#8a8a8a", lw=0.9))
handles = [Line2D([], [], color=GREEN, lw=1.4),
           Line2D([], [], marker="o", ls="", color=NAVY, ms=3.6, mew=0),
           Line2D([], [], marker="s", ls="", color=RED, ms=3.6, mew=0),
           Line2D([], [], color="#333333", lw=1.2)]
labels = ["Chl-a ALICE  in situ", "Chl-a ALICE  OC-CCI", "Chl-a ALICE CMEMS", "Chl-a ALICE = 2"]
fig.legend(handles, labels, loc="upper left", bbox_to_anchor=(779 / W, 1 - 1283 / H), frameon=False,
           prop=dict(family=ARIAL, weight="bold", size=9), handlelength=1.75, handletextpad=0.15,
           labelspacing=0.58, borderpad=0, borderaxespad=0)

fig.savefig("out.png", dpi=100)
